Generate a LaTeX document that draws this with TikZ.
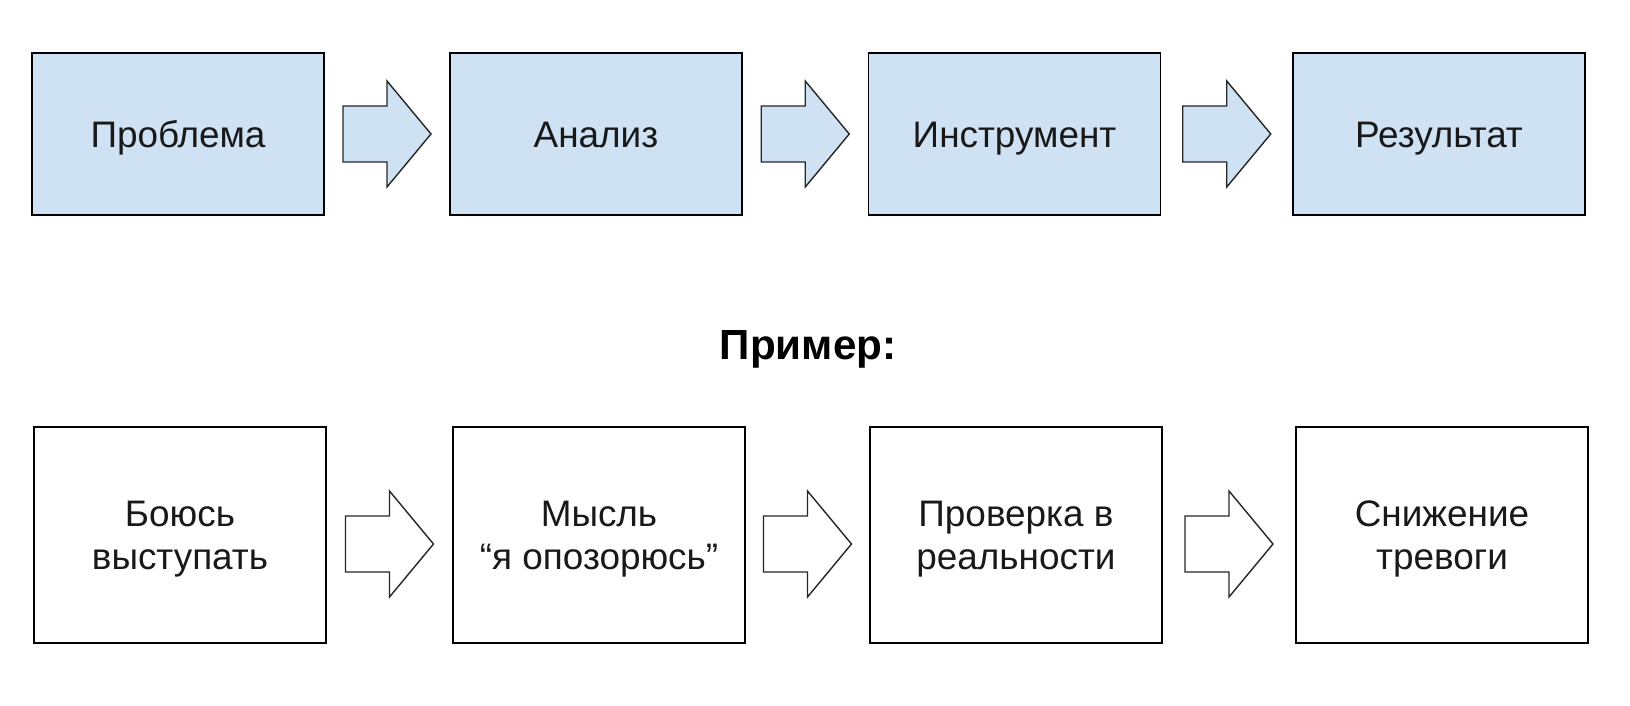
\documentclass[tikz,border=0pt]{standalone}
\usepackage{fontspec}
\setmainfont{Liberation Sans}
\usetikzlibrary{calc, positioning}
\definecolor{stageblue}{HTML}{CFE2F3}
\tikzset{
  stage/.style={rectangle, draw=black, line width=1pt, minimum width=5.84cm, align=center, text=black!90, font=\fontsize{21}{24.3}\selectfont},
  topstage/.style={stage, fill=stageblue, minimum height=3.24cm, text height=15pt, text depth=0pt},
  lowstage/.style={stage, minimum height=4.32cm, text depth=0pt},
  flow/.style={draw=black!85, line width=0.8pt, line join=miter}
}
% block arrow between two boxes, #3 = vertical offset
\newcommand{\flowarrow}[4]{%
  \draw[flow, fill=#4] ($(#1.east)!0.5!(#2.west)+(0,#3)$) ++(-44,-28) -- ++(44,0) -- ++(0,-25)
    -- ++(44,53) -- ++(-44,53) -- ++(0,-25) -- ++(-44,0) -- cycle;}

\begin{document}
\begin{tikzpicture}[x=0.02cm, y=-0.02cm]
  \useasboundingbox (0,0) rectangle (1630,706);

  % Top row
  \node[topstage] (prob)  at (178,134)    {Проблема};
  \node[topstage] (anal)  at (596,134)    {Анализ};
  \node[topstage] (instr) at (1014.5,134) {Инструмент};
  \node[topstage] (res)   at (1439,134)   {Результат};

  % Example title
  \node[font=\fontsize{24}{28}\selectfont\bfseries] (title) at (808,349) {Пример:};

  % Bottom row
  \node[lowstage] (fear)    at (180,535)  {Боюсь\\выступать};
  \node[lowstage] (thought) at (599,535)  {Мысль\\“я опозорюсь”};
  \node[lowstage] (check)   at (1016,535) {Проверка в\\реальности};
  \node[lowstage] (calm)    at (1442,535) {Снижение\\тревоги};

  % Arrows
  \foreach \a/\b in {prob/anal, anal/instr, instr/res}
    \flowarrow{\a}{\b}{0}{stageblue};
  \foreach \a/\b in {fear/thought, thought/check, check/calm}
    \flowarrow{\a}{\b}{9}{white};
\end{tikzpicture}
\end{document}
